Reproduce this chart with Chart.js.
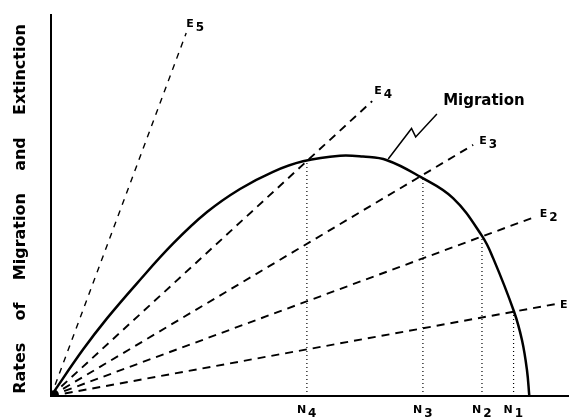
<!DOCTYPE html>
<html>
<head>
<meta charset="utf-8">
<script src="https://cdn.jsdelivr.net/npm/chart.js@4.4.1/dist/chart.umd.min.js"></script>
<style>
  html, body { margin: 0; padding: 0; background: #fff; }
</style>
</head>
<body>
<canvas id="chart" width="569" height="420"></canvas>
<script>
// ── Migration curve (relative units: x = number of species, y = rate) ──────
const migX = [0, 6.18, 10.81, 16.60, 23.55, 30.12, 36.49, 42.86, 48.65, 55.79, 60.23, 64.86, 71.24, 77.61, 83.20, 85.33, 89.38, 90.93, 91.89, 92.34];
const migY = [0, 12.18, 20.37, 29.58, 39.97, 48.27, 54.33, 58.85, 61.60, 63.07, 62.83, 61.89, 57.56, 51.92, 42.02, 36.25, 22.18, 14.62, 6.75, 0];

// ── Extinction lines (all start at the origin) ─────────────────────────────
const extNames = ['E', 'E2', 'E3', 'E4', 'E5'];
const extSubs  = ['', '2', '3', '4', '5'];
const extEndX  = [97.3, 93.4, 81.5, 62.0, 26.1];
const extEndY  = [24.1, 47.0, 65.9, 77.4, 95.3];

// ── Equilibrium points N1..N4 ──────────────────────────────────────────────
const eqSubs = ['1', '2', '3', '4'];
const eqX    = [89.3, 83.2, 71.8, 49.4];
const eqTop  = [22.4, 42.0, 57.4, 61.8];

// ── Leader from the "Migration" label to the curve ─────────────────────────
const leaderX = [74.5, 70.4, 69.6, 65.1];
const leaderY = [74.0, 68.0, 70.2, 62.2];

const yTitleWords = ['Rates', 'of', 'Migration', 'and', 'Extinction'];
const curveLabel  = 'Migration';
const curveLabelAt = { x: 75.7, y: 77.4 };

// label offsets from the end of each extinction line (px)
const extLabelDx = [5, 5, 6, 2, 0];
const extLabelDy = [1, -3, -4, -10, -9];

const FONT = "'DejaVu Sans', sans-serif";

function pts(xs, ys) {
  return xs.map((x, i) => ({ x, y: ys[i] }));
}

// main text + subscript, left aligned, vertical middle at y
function drawSub(ctx, main, sub, x, y, size) {
  ctx.font = `bold ${size}px ${FONT}`;
  ctx.textAlign = 'left';
  ctx.textBaseline = 'middle';
  ctx.fillText(main, x, y);
  if (sub) {
    const w = ctx.measureText(main).width;
    ctx.font = `bold ${size + 1}px ${FONT}`;
    ctx.fillText(sub, x + w + 2, y + 4);
  }
}

const labelPlugin = {
  id: 'labels',
  afterDraw(chart) {
    const { ctx, scales: { x, y } } = chart;
    ctx.save();
    ctx.fillStyle = '#000';

    // y-axis title
    ctx.save();
    ctx.translate(21, 209);
    ctx.rotate(-Math.PI / 2);
    ctx.font = `bold 16px ${FONT}`;
    ctx.textAlign = 'center';
    ctx.textBaseline = 'middle';
    ctx.fillText(yTitleWords.join('    '), 0, 0);
    ctx.restore();

    // curve label
    drawSub(ctx, curveLabel, '', x.getPixelForValue(curveLabelAt.x), y.getPixelForValue(curveLabelAt.y), 15);

    // extinction labels
    extNames.forEach((n, i) => {
      const px = x.getPixelForValue(extEndX[i]) + extLabelDx[i];
      const py = y.getPixelForValue(extEndY[i]) + extLabelDy[i];
      drawSub(ctx, 'E', extSubs[i], px, py, 11);
    });

    // N labels under the axis
    eqSubs.forEach((s, i) => {
      const px = x.getPixelForValue(eqX[i]) - 10;
      drawSub(ctx, 'N', s, px, 410, 11);
    });
    ctx.restore();
  },
};

const datasets = [
  {
    data: pts(migX, migY),
    borderColor: '#000',
    borderWidth: 2.5,
    tension: 0.4,
  },
  {
    data: pts(leaderX, leaderY),
    borderColor: '#000',
    borderWidth: 1.5,
    tension: 0,
  },
];

extNames.forEach((n, i) => {
  datasets.push({
    data: [{ x: 0, y: 0 }, { x: extEndX[i], y: extEndY[i] }],
    borderColor: '#000',
    borderWidth: i === 4 ? 1.4 : 1.9,
    borderDash: i === 4 ? [6, 6] : [8, 6],
  });
});

eqX.forEach((v, i) => {
  datasets.push({
    data: [{ x: v, y: 0 }, { x: v, y: eqTop[i] }],
    borderColor: '#000',
    borderWidth: 1.2,
    borderDash: [1, 3],
  });
});

const axis = {
  type: 'linear', min: 0, max: 100,
  ticks: { display: false },
  grid: { display: false, drawTicks: false },
  border: { color: '#000', width: 2 },
};

new Chart(document.getElementById('chart'), {
  type: 'line',
  data: { datasets },
  options: {
    responsive: false,
    animation: false,
    clip: false,
    layout: { padding: { left: 51, top: 15, right: 0, bottom: 24 } },
    elements: { point: { radius: 0 } },
    plugins: { legend: { display: false }, tooltip: { enabled: false } },
    scales: { x: { ...axis }, y: { ...axis } },
  },
  plugins: [labelPlugin],
});
</script>
</body>
</html>
